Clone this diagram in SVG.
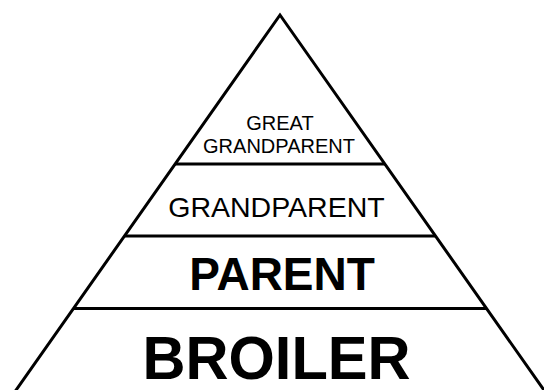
<svg xmlns="http://www.w3.org/2000/svg" width="544" height="390" viewBox="0 0 544 390">
<style>
.ln{stroke:#000;stroke-width:3;fill:none}
.t{font-family:"Liberation Sans",Arial,sans-serif;fill:#000;text-anchor:middle}
.b{font-weight:bold}
</style>
<rect width="544" height="390" fill="#fff"/>
<g id="pyramid">
<polyline class="ln" points="12.6,395 280,15 547.4,395"/>
<line class="ln" x1="175" y1="164" x2="385" y2="164"/>
<line class="ln" x1="124" y1="236" x2="436" y2="236"/>
<line class="ln" x1="73" y1="308.5" x2="487" y2="308.5"/>
</g>
<g id="great-grandparent">
<text class="t" x="280" y="130" font-size="20">GREAT</text>
<text class="t" x="279" y="153" font-size="20">GRANDPARENT</text>
</g>
<g id="grandparent">
<text class="t" x="276.5" y="217" font-size="28.5">GRANDPARENT</text>
</g>
<g id="parent">
<text class="t b" x="282" y="290" font-size="46">PARENT</text>
</g>
<g id="broiler">
<text class="t b" x="276.5" y="379" font-size="62" textLength="268" lengthAdjust="spacingAndGlyphs">BROILER</text>
</g>
</svg>
